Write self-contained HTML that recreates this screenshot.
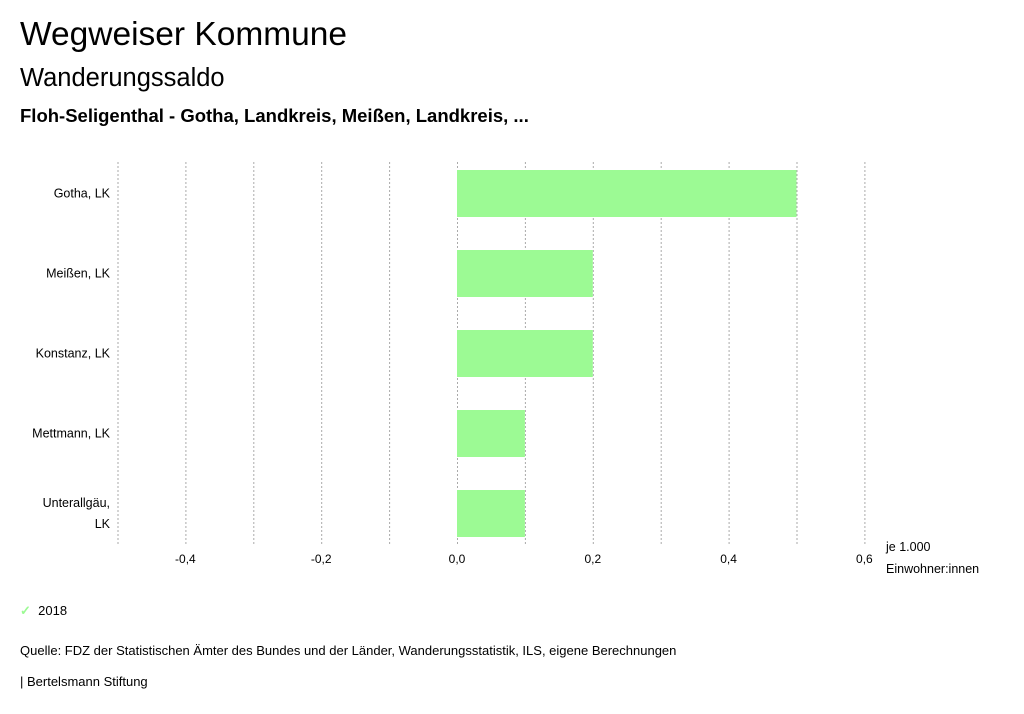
<!DOCTYPE html>
<html><head><meta charset="utf-8"><style>
body{margin:0;width:1024px;height:714px;background:#fff;font-family:"Liberation Sans",sans-serif;color:#000;overflow:hidden;position:relative}
.t{position:absolute;white-space:nowrap}
</style></head><body>
<div class="t" style="left:20px;top:16px;font-size:33.5px">Wegweiser Kommune</div>
<div class="t" style="left:20px;top:64px;font-size:25.5px">Wanderungssaldo</div>
<div class="t" style="left:20px;top:105px;font-size:18.5px;font-weight:bold">Floh-Seligenthal - Gotha, Landkreis, Meißen, Landkreis, ...</div>
<svg id="c" width="1024" height="714" style="position:absolute;left:0;top:0"></svg>
<div class="t" style="left:20px;top:603px;font-size:13px"><span style="color:#9cfa94;font-weight:bold">✓</span>&nbsp;&nbsp;2018</div>
<div class="t" style="left:20px;top:643px;font-size:13px">Quelle: FDZ der Statistischen Ämter des Bundes und der Länder, Wanderungsstatistik, ILS, eigene Berechnungen</div>
<div class="t" style="left:20px;top:674px;font-size:13px">| Bertelsmann Stiftung</div>
<script>
const categories=[["Gotha, LK"],["Meißen, LK"],["Konstanz, LK"],["Mettmann, LK"],["Unterallgäu,","LK"]];
const values2018=[0.5,0.2,0.2,0.1,0.1];
const gridTicks=[-0.5,-0.4,-0.3,-0.2,-0.1,0,0.1,0.2,0.3,0.4,0.5,0.6];
const tickLabels=[-0.4,-0.2,0,0.2,0.4,0.6];
const NS="http://www.w3.org/2000/svg",svg=document.getElementById('c');
const x=v=>457+v*679;
const bandTop=153.5,band=80;
function el(t,a){const e=document.createElementNS(NS,t);for(const k in a)e.setAttribute(k,a[k]);svg.appendChild(e);return e;}
gridTicks.forEach(v=>{const l=el('line',{x1:x(v)+0.5,x2:x(v)+0.5,y1:162,y2:545,stroke:'#aaa','stroke-dasharray':'2,2','stroke-width':1});

});
tickLabels.forEach(v=>{const t=el('text',{x:x(v),y:563,'text-anchor':'middle','font-size':12});t.textContent=v.toFixed(1).replace('.',',');

});
categories.forEach((c,i)=>{const cy=bandTop+band*i+band/2;
const v=values2018[i];
const r=el('rect',{x:Math.min(x(0),x(v)),y:cy-23.5,width:Math.abs(x(v)-x(0)),height:47,fill:'#9cfa94'});


c.forEach((s,j)=>{const t=el('text',{x:110,y:cy+4+(j-(c.length-1)/2)*21,'text-anchor':'end','font-size':12.5});t.textContent=s;

});});
[["je 1.000",551],["Einwohner:innen",573]].forEach(a=>{const t=el('text',{x:886,y:a[1],'font-size':12.5});t.textContent=a[0];

});
</script>
</body></html>
